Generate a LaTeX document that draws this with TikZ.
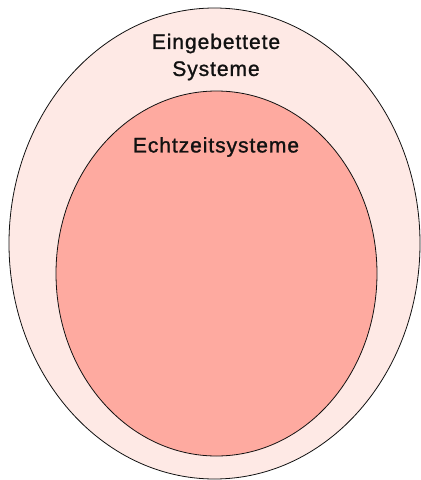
\documentclass[tikz,border=0pt]{standalone}
\usepackage{fontspec}
\setmainfont{Liberation Sans}[LetterSpace=4.5,FakeBold=1.2]
\usetikzlibrary{positioning}
\definecolor{outerpink}{HTML}{FEE9E5}
\definecolor{innersalmon}{HTML}{FEAAA0}
\definecolor{ink}{HTML}{111111}
\tikzset{
  ring/.style={draw=ink,line width=0.8pt},
  label/.style={font=\fontsize{21}{27}\selectfont,text=ink,align=center,inner sep=0pt}
}

\begin{document}
\begin{tikzpicture}[x=1pt,y=-1pt]
  \useasboundingbox (0,0) rectangle (421,480);
  \draw[ring,fill=outerpink] (214.5,243.5) ellipse [x radius=205.5,y radius=235.5];
  \draw[ring,fill=innersalmon] (216.5,273.5) ellipse [x radius=160.5,y radius=182.5];
  \node[label] (embedded) at (216,57) {Eingebettete\\Systeme};
  \node[label] (realtime) at (216,147) {Echtzeitsysteme};
\end{tikzpicture}
\end{document}
